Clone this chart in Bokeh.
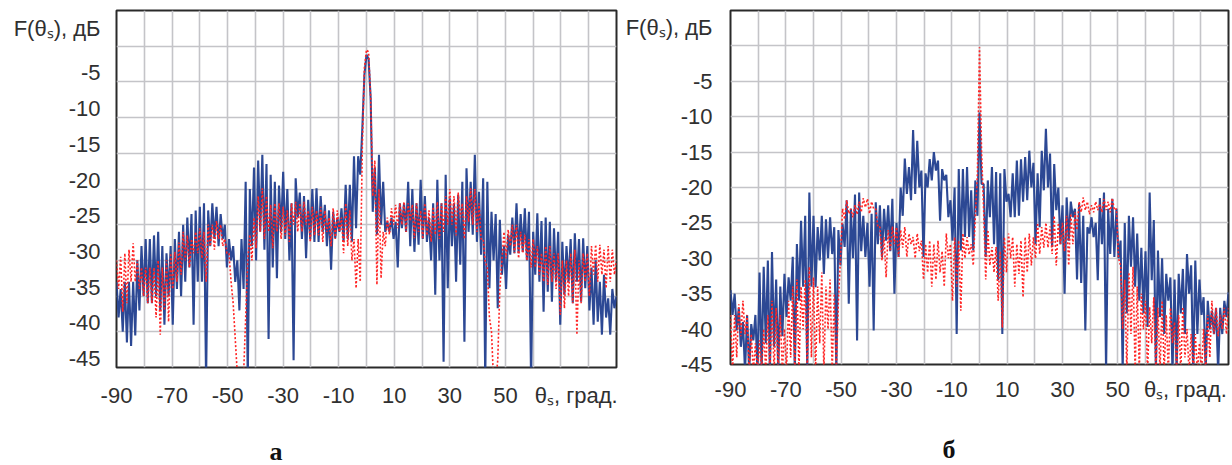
from bokeh.plotting import figure
from bokeh.models import Range1d, FixedTicker, LinearAxis
from bokeh.layouts import row
from bokeh.embed import file_html
from bokeh.resources import INLINE

# sample grid of the patterns (degrees): peaks / nulls alternate every 0.75 deg
theta = [round(-90 + 0.75 * i, 2) for i in range(241)]

# ---- panel "а" -------------------------------------------------------------
a_blue = [
    -33, -38, -34, -40, -33, -41.5, -33, -42,
    -33, -40.5, -30, -37, -28, -35, -27, -36,
    -27, -36, -26.5, -35, -26, -37, -28, -39,
    -29, -35, -28, -39, -27, -34, -26, -35,
    -25, -33, -24, -31, -23.5, -39, -23, -33,
    -22.5, -33, -22, -47, -23, -28, -22, -27,
    -22.5, -28, -23.5, -27, -25, -31, -27, -30,
    -28, -33, -30, -37, -27, -34, -19, -47,
    -20, -28, -17, -30, -16, -26, -15.2, -28.5,
    -16.5, -41, -18, -31, -19, -32.5, -19.5, -26,
    -17.6, -27, -20, -30, -22, -44, -18.5, -24,
    -20.5, -27, -21, -29.7, -21.5, -27, -20, -27.4,
    -19.9, -27.4, -21, -26, -22.2, -28, -23, -31.3,
    -23.2, -26.9, -24, -26, -22.7, -27.4, -19.4, -27,
    -19.4, -27.4, -15.4, -25.5, -15.4, -18, -11.5, -4,
    -1.2, -1.8, -7.3, -23.2, -17, -26.4, -15.2, -25,
    -19, -26, -24.6, -26, -24, -27, -24.6, -31,
    -22, -25.5, -22, -26, -19, -28, -20, -28.8,
    -22, -27.8, -18.7, -27, -21, -27.4, -24, -30,
    -22, -34.8, -18.7, -30, -22, -44.2, -18, -33.9,
    -21.3, -28, -22, -33, -20.8, -30.6, -19, -41.4,
    -17.1, -26, -19, -26.4, -15.2, -27.4, -20.4, -29.2,
    -18.5, -47, -19, -33.9, -23.2, -30, -23.5, -36.7,
    -24.3, -32, -28, -34, -26.4, -29.2, -24, -29,
    -22, -29, -23.5, -28.8, -22.7, -30, -23.2, -47,
    -26, -32, -23.4, -33, -24.5, -37.2, -24, -34.4,
    -24.6, -35.8, -25.5, -33, -26, -39, -27.4, -34.8,
    -28, -33, -27, -36, -26.2, -33, -27, -35.8,
    -26.9, -33.9, -28, -37, -31, -39, -30, -38.6,
    -33, -40.4, -32, -38, -35.3, -40.4, -34, -36.7,
    -35,
]
a_red = [
    -30, -34, -29.5, -37.2, -29, -36, -28.5, -33,
    -27.6, -33, -30, -34, -31, -35, -31, -36,
    -31, -36, -31, -38, -30, -40.4, -31, -37,
    -30, -38.6, -29, -34, -28.8, -33, -27.5, -32,
    -26, -30, -26.5, -31, -27, -29, -26, -29,
    -25.5, -29.7, -26, -33, -25, -28, -25, -28.5,
    -24.5, -27, -25, -28, -27, -29, -29, -33,
    -36, -41, -46, -47, -47, -46, -38, -30,
    -26.4, -30, -24, -28.3, -21, -26, -19.9, -27,
    -21, -26, -22.2, -28.3, -22, -26, -22, -27,
    -22.5, -26.5, -23, -27.4, -22, -25, -21.8, -26,
    -22, -26, -21.8, -25, -23, -27.4, -22.5, -26.5,
    -23, -26.5, -22.5, -27.4, -23, -26, -24, -28,
    -22.7, -27, -23, -26, -24, -29, -22, -28,
    -23, -30, -27, -33.9, -27, -33, -14, -3,
    -0.5, -0.8, -7.3, -21, -16, -33.4, -20, -32.5,
    -26, -28, -24, -26.4, -22.7, -25, -22.2, -25.5,
    -22, -25, -21.8, -26, -22, -24.5, -22.2, -26.9,
    -22, -26, -23, -27, -22, -26.5, -23, -27.4,
    -22.5, -26.4, -21.8, -27, -22, -26, -21, -25,
    -20, -25, -21, -26.5, -20.5, -24, -22, -27,
    -21, -24.6, -19.9, -25, -20, -26, -22, -27,
    -27, -30.2, -31, -38, -40, -47, -47, -44,
    -34, -30, -26, -29.7, -25.7, -28, -25, -29,
    -25, -29.7, -26, -29, -26.4, -30, -27, -31,
    -27, -31, -28, -32, -29, -33, -28, -33.4,
    -28, -33, -29, -34, -29, -37.6, -30, -36.7,
    -30, -35, -29, -36, -28.5, -40.4, -30, -36,
    -29, -33, -29, -35, -28, -32, -27.8, -33,
    -27.8, -32, -28.5, -33.9, -28, -33, -28.5, -32,
    -30,
]

# ---- panel "б" -------------------------------------------------------------
b_blue = [
    -34.5, -38, -35, -40.2, -37, -42.5, -39, -46,
    -38, -46, -39.3, -41.6, -38, -46, -32, -46,
    -31.2, -42, -30.3, -46, -29.1, -42.5, -33, -46,
    -34, -41, -32.2, -38.3, -32.7, -36, -29.8, -46,
    -28, -36, -24.7, -34, -24, -46, -20.7, -34,
    -24, -34.1, -25.6, -30.3, -24, -32.2, -24.5, -30,
    -24.2, -29.4, -25.6, -46, -26, -31, -25.1, -28.4,
    -21.8, -36.4, -23, -30, -21, -41.6, -20.7, -29,
    -24, -29.8, -25, -34, -23.7, -40.2, -22.1, -28,
    -22.5, -29.8, -23, -27.5, -22.5, -29, -21.6, -35,
    -25, -29.8, -20, -24, -15.9, -20.9, -17.1, -21.8,
    -11.9, -20.9, -13.4, -20, -17.6, -29.8, -18, -20,
    -16, -19, -15, -17.6, -16.2, -24.7, -17.4, -19,
    -18.2, -24.2, -21.8, -27.5, -20, -40.7, -17.4, -28.9,
    -17.4, -27, -17.1, -27, -20.4, -28.9, -19, -24,
    -9.4, -19.5, -19.5, -29.8, -19, -24.2, -17.1, -28,
    -17.8, -33.1, -18, -40.7, -17.4, -22, -20.9, -24.2,
    -18, -24.2, -16.2, -24, -16, -22, -15.7, -21.8,
    -14.8, -20, -16.5, -28, -18, -25.6, -14.8, -20.4,
    -11.7, -20, -15.2, -28.4, -16.7, -23.2, -20, -28,
    -22.5, -35, -21.4, -27.5, -22, -24.2, -23, -33,
    -22.3, -33.5, -24, -40.2, -25.6, -26.5, -24.2, -27,
    -25, -33.1, -21.5, -28, -20.7, -46, -23, -29.4,
    -21.6, -29.8, -23, -30, -27.5, -46, -25, -37.8,
    -24, -31.2, -24.2, -34, -26.5, -36, -28.5, -37.8,
    -29, -39.7, -20.7, -33.1, -24.6, -46, -28.9, -38.3,
    -30, -40.7, -32.2, -36, -32.7, -46, -33, -46,
    -32.2, -37.8, -31.5, -40.7, -29.4, -35, -31, -46,
    -30.3, -40.7, -33, -38, -35.5, -46, -36, -40,
    -37.4, -40.7, -37, -46, -37, -40.7, -36, -38.3,
    -34.8,
]
b_red = [
    -38, -46, -38, -44, -36.5, -41, -36, -40.7,
    -38, -46, -40.7, -46, -42, -46, -41.6, -46,
    -40, -46, -38, -46, -36, -46, -37, -46,
    -38, -46, -40, -46, -36, -44, -34, -46,
    -33, -46, -34, -40, -33, -46, -31.2, -44,
    -32.7, -46, -34, -42, -32, -46, -34, -40,
    -33, -46, -35, -46, -36, -30, -23, -24.5,
    -21.8, -23.7, -23, -24.2, -22.5, -23.8, -22, -23.5,
    -21.5, -22.8, -21.6, -23.7, -22, -23, -23, -25.6,
    -25.6, -30.3, -27, -32.7, -26, -29, -25.5, -28,
    -25.6, -29.8, -26, -28.5, -25.6, -29.8, -26.5, -28,
    -27, -30, -26.5, -29, -27.5, -33, -28, -32,
    -27.5, -34, -28, -33, -27.5, -32, -29, -34,
    -26.5, -30, -28, -36, -27, -34, -27.5, -37.4,
    -26.5, -30, -27, -29.5, -28, -31, -24, -18,
    -0.2, -15, -23.2, -33, -26, -31, -28.4, -32,
    -28.4, -36, -29, -39.8, -27, -32, -26.5, -30,
    -27, -34, -28, -32.2, -27.5, -35.5, -27, -32,
    -26.5, -31, -27, -30, -25, -29.4, -25.6, -28.5,
    -25, -28.5, -25.5, -29.4, -24, -31, -25, -28,
    -25, -29, -24, -31, -23.7, -28, -23.5, -26,
    -22, -23.5, -21.4, -23.2, -22, -23.8, -22.5, -23.5,
    -22, -23.2, -22.3, -23.5, -21.6, -23.2, -22, -23.5,
    -21.5, -23.2, -23, -30, -31, -40, -33, -46,
    -32, -40.7, -31.2, -46, -34, -46, -35, -40,
    -36, -46, -36.9, -42, -35.5, -46, -37, -46,
    -36, -46, -38, -46, -37, -42, -39, -46,
    -38, -46, -36.9, -44, -40, -46, -40.7, -46,
    -40.7, -46, -42, -46, -40, -46, -38, -44,
    -36, -40.7, -37, -41, -38, -40, -37, -40.7,
    -37,
]

# ---- axes texts ---------------------------------------------------------------
x_grid = list(range(-90, 91, 10))
x_tick_vals = [-90, -70, -50, -30, -10, 10, 30, 50]
x_tick_text = ["-90", "-70", "-50", "-30", "-10", "10", "30", "50"]
x_label = "θₛ, град."
y_grid = list(range(-45, 6, 5))
y_tick_vals = [-45, -40, -35, -30, -25, -20, -15, -10, -5]
y_tick_text = ["-45", "-40", "-35", "-30", "-25", "-20", "-15", "-10", "-5"]
y_label = "F(θₛ), дБ"
panel_names = ["а", "б"]

BLUE = "#2c4894"
RED = "#ff2424"
INK = "#2a2a2a"


def make_panel(blue, red, fw, fh, bl, br, bt, bb, yshift, ylab_pos, xlab_pos,
               name, name_pos, x_std, y_std, name_std):
    p = figure(frame_width=fw, frame_height=fh,
               min_border_left=bl, min_border_right=br,
               min_border_top=bt, min_border_bottom=bb,
               x_range=Range1d(-90, 90), y_range=Range1d(-45, 5),
               output_backend="svg", toolbar_location=None, tools="")
    p.background_fill_color = "white"
    p.border_fill_color = "white"
    p.outline_line_color = INK
    p.outline_line_width = 2

    xa = p.xaxis[0]
    ya = p.yaxis[0]
    xt = x_tick_vals + [xlab_pos]
    xa.ticker = FixedTicker(ticks=xt)
    xa.major_label_overrides = dict(zip(xt, x_tick_text + [x_label]))
    yt = [v + yshift for v in y_tick_vals] + [ylab_pos]
    ya.ticker = FixedTicker(ticks=yt)
    ya.major_label_overrides = dict(zip(yt, y_tick_text + [y_label]))

    nax = LinearAxis(ticker=FixedTicker(ticks=[name_pos]),
                     major_label_overrides={name_pos: name})
    p.add_layout(nax, "below")

    for ax in (xa, ya, nax):
        ax.axis_line_color = None
        ax.major_tick_line_color = None
        ax.minor_tick_line_color = None
        ax.major_tick_out = 0
        ax.major_tick_in = 0
        ax.minor_tick_out = 0
        ax.minor_tick_in = 0
        ax.major_label_text_font = "Liberation Sans"
        ax.major_label_text_font_size = "22px"
        ax.major_label_text_color = "#303030"
    nax.major_label_text_font = "Liberation Serif"
    nax.major_label_text_font_style = "bold"
    nax.major_label_text_font_size = "26px"
    nax.major_label_text_color = "#111111"
    xa.major_label_standoff = x_std
    ya.major_label_standoff = y_std
    nax.major_label_standoff = name_std

    p.xgrid[0].ticker = FixedTicker(ticks=x_grid)
    p.ygrid[0].ticker = FixedTicker(ticks=y_grid)
    for g in (p.xgrid[0], p.ygrid[0]):
        g.grid_line_color = "#c4c4c8"
        g.grid_line_width = 1.6

    p.line(theta, blue, line_color=BLUE, line_width=2.1)
    p.line(theta, red, line_color=RED, line_width=1.6, line_dash="2 2")
    return p


# panel а : frame x 116..616, y 9..366
pa = make_panel(a_blue, a_red, 500, 357, 116, 4, 9, 99, 1.25, 2.5, 75.5,
                panel_names[0], -32.6, 15, 16, 26)
# panel б : frame x 730..1228, y 10..364
pb = make_panel(b_blue, b_red, 498, 354, 110, 4, 10, 101, 0.0, 2.6, 74.4,
                panel_names[1], -11.0, 12, 18, 30)

layout = row(pa, pb)
open("out.html", "w").write(file_html(layout, INLINE))
